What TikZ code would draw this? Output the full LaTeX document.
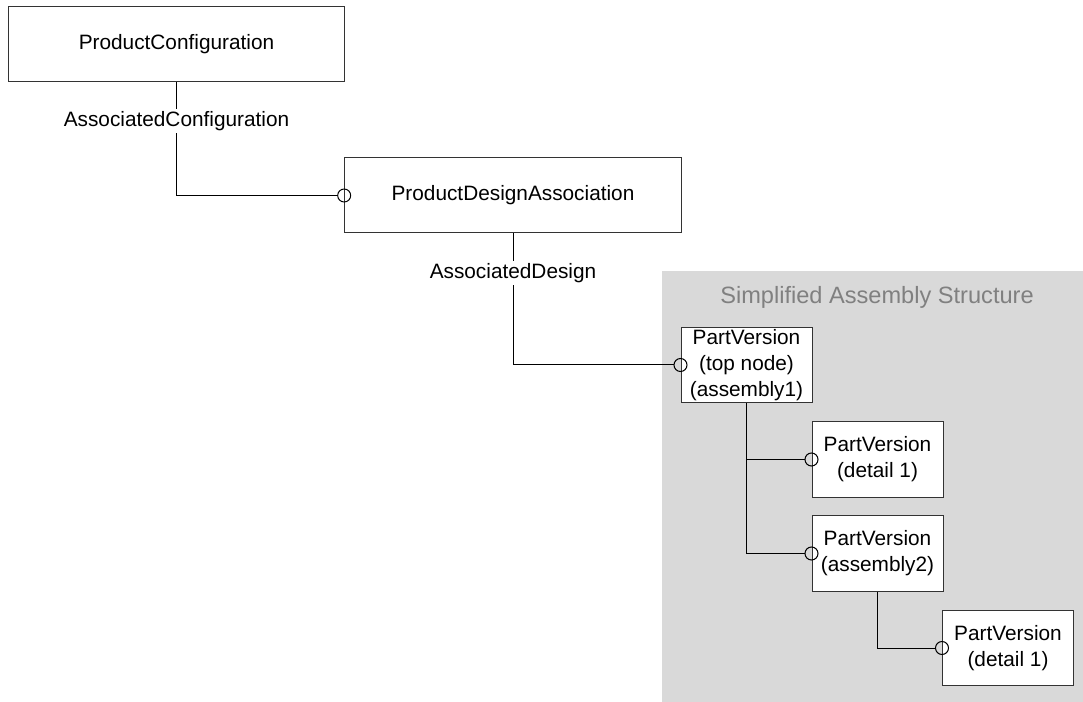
\documentclass[tikz,border=0pt]{standalone}
\usepackage{fontspec}
\setmainfont{Liberation Sans}
\usetikzlibrary{arrows.meta}
\definecolor{pannello}{RGB}{217,217,217}
\definecolor{grigiotesto}{RGB}{128,128,128}
\tikzset{
  box/.style={draw=black!80, line width=0.75pt, fill=white, align=center, inner sep=0pt,
    font=\fontsize{15.6}{19.5}\selectfont},
  bigbox/.style={box, minimum width=252.5pt, minimum height=56.25pt},
  partbox/.style={box, minimum width=98.25pt, minimum height=56.5pt},
  link/.style={line width=0.75pt, -{Circle[open, length=10.5pt, width=10.5pt]}, shorten >=-5.25pt},
  lbl/.style={fill=white, inner sep=1.5pt, font=\fontsize{15.6}{19.5}\selectfont},
}
\begin{document}
\begin{tikzpicture}[x=0.75pt, y=-0.75pt]
    \useasboundingbox (0,0) rectangle (1083,702);

    % Pannello della struttura semplificata
    \fill[pannello] (662,271) rectangle (1083,702);
    \node[text=grigiotesto, font=\fontsize{17.7}{21}\selectfont] (titolo) at (877,297) {Simplified Assembly Structure};

    % Blocchi superiori
    \node[bigbox] (config) at (176.5,44.5) {ProductConfiguration};
    \node[bigbox] (assoc) at (513,195.5) {ProductDesignAssociation};

    % Blocchi PartVersion
    \node[partbox] (top) at (746.5,365) {PartVersion\\(top node)\\(assembly1)};
    \node[partbox] (det1) at (877.5,459.5) {PartVersion\\(detail 1)};
    \node[partbox] (asm2) at (877.5,553.5) {PartVersion\\(assembly2)};
    \node[partbox] (det2) at (1008,648) {PartVersion\\(detail 1)};

    % Collegamenti
    \draw[link] (config.south) |- node[lbl, pos=0.17] (lblconf) {AssociatedConfiguration} (assoc.west);
    \draw[link] (assoc.south) |- node[lbl, pos=0.15] (lbldes) {AssociatedDesign} (top.west);
    \draw[link] (top.south) |- (det1.west);
    \draw[link] (top.south) |- (asm2.west);
    \draw[link] (asm2.south) |- (det2.west);
\end{tikzpicture}
\end{document}
